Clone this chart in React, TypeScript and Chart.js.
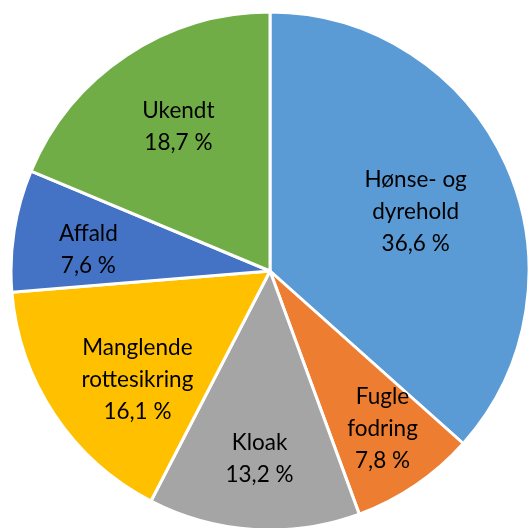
import React, { useEffect, useRef } from "react";
import { Chart, registerables } from "chart.js";

Chart.register(...registerables);

const categories = ["Hønse- og dyrehold", "Fugle fodring", "Kloak", "Manglende rottesikring", "Affald", "Ukendt"];
const labelLines = [["Hønse- og", "dyrehold"], ["Fugle", "fodring"], ["Kloak"], ["Manglende", "rottesikring"], ["Affald"], ["Ukendt"]];
const values = [36.6, 7.8, 13.2, 16.1, 7.6, 18.7];
const colors = ["#5B9BD5", "#ED7D31", "#A5A5A5", "#FFC000", "#4472C4", "#70AD47"];
// label placement: radial fraction and angular tweak (deg)
const labelRadius = [0.607, 0.748, 0.725, 0.663, 0.706, 0.659];
const labelAngle = [2.0, -1.3, -0.4, -5.8, -2.4, 1.2];

const labelPlugin = {
  id: "sliceLabels",
  afterDatasetsDraw(chart: any) {
    const ctx = chart.ctx;
    const meta = chart.getDatasetMeta(0);
    ctx.save();
    ctx.fillStyle = "#000000";
    ctx.font = "22.5px Lato, 'Open Sans', sans-serif";
    ctx.textAlign = "center";
    ctx.textBaseline = "middle";
    meta.data.forEach((arc: any, i: number) => {
      const p = arc.getProps(["x", "y", "startAngle", "endAngle", "outerRadius"], true);
      const mid = (p.startAngle + p.endAngle) / 2 + (labelAngle[i] * Math.PI) / 180;
      const r = p.outerRadius * labelRadius[i];
      const cx = p.x + Math.cos(mid) * r;
      const cy = p.y + Math.sin(mid) * r;
      const lines = [...labelLines[i], values[i].toFixed(1).replace(".", ",") + " %"];
      const lh = 32;
      const top = cy - ((lines.length - 1) * lh) / 2;
      lines.forEach((l, k) => ctx.fillText(l, cx, top + k * lh));
    });
    ctx.restore();
  },
};

export default function App() {
  const ref = useRef<HTMLCanvasElement>(null);
  useEffect(() => {
    document.body.style.overflow = "hidden";
    document.documentElement.style.overflow = "hidden";
    const chart = new Chart(ref.current!, {
      type: "pie",
      data: {
        labels: categories,
        datasets: [
          {
            data: values,
            backgroundColor: colors,
            borderColor: "#ffffff",
            borderWidth: 3,
          },
        ],
      },
      options: {
        animation: false,
        responsive: false,
        layout: { padding: { left: 1.5, right: 1.5, top: 0, bottom: 0 } },
        plugins: { legend: { display: false }, tooltip: { enabled: false } },
      },
      plugins: [labelPlugin],
    });
    return () => chart.destroy();
  }, []);
  return (
    <div style={{ position: "fixed", left: 8, top: 8, width: 524, height: 526 }}>
      <canvas ref={ref} width={524} height={526} style={{ display: "block", width: 524, height: 526 }} />
    </div>
  );
}
